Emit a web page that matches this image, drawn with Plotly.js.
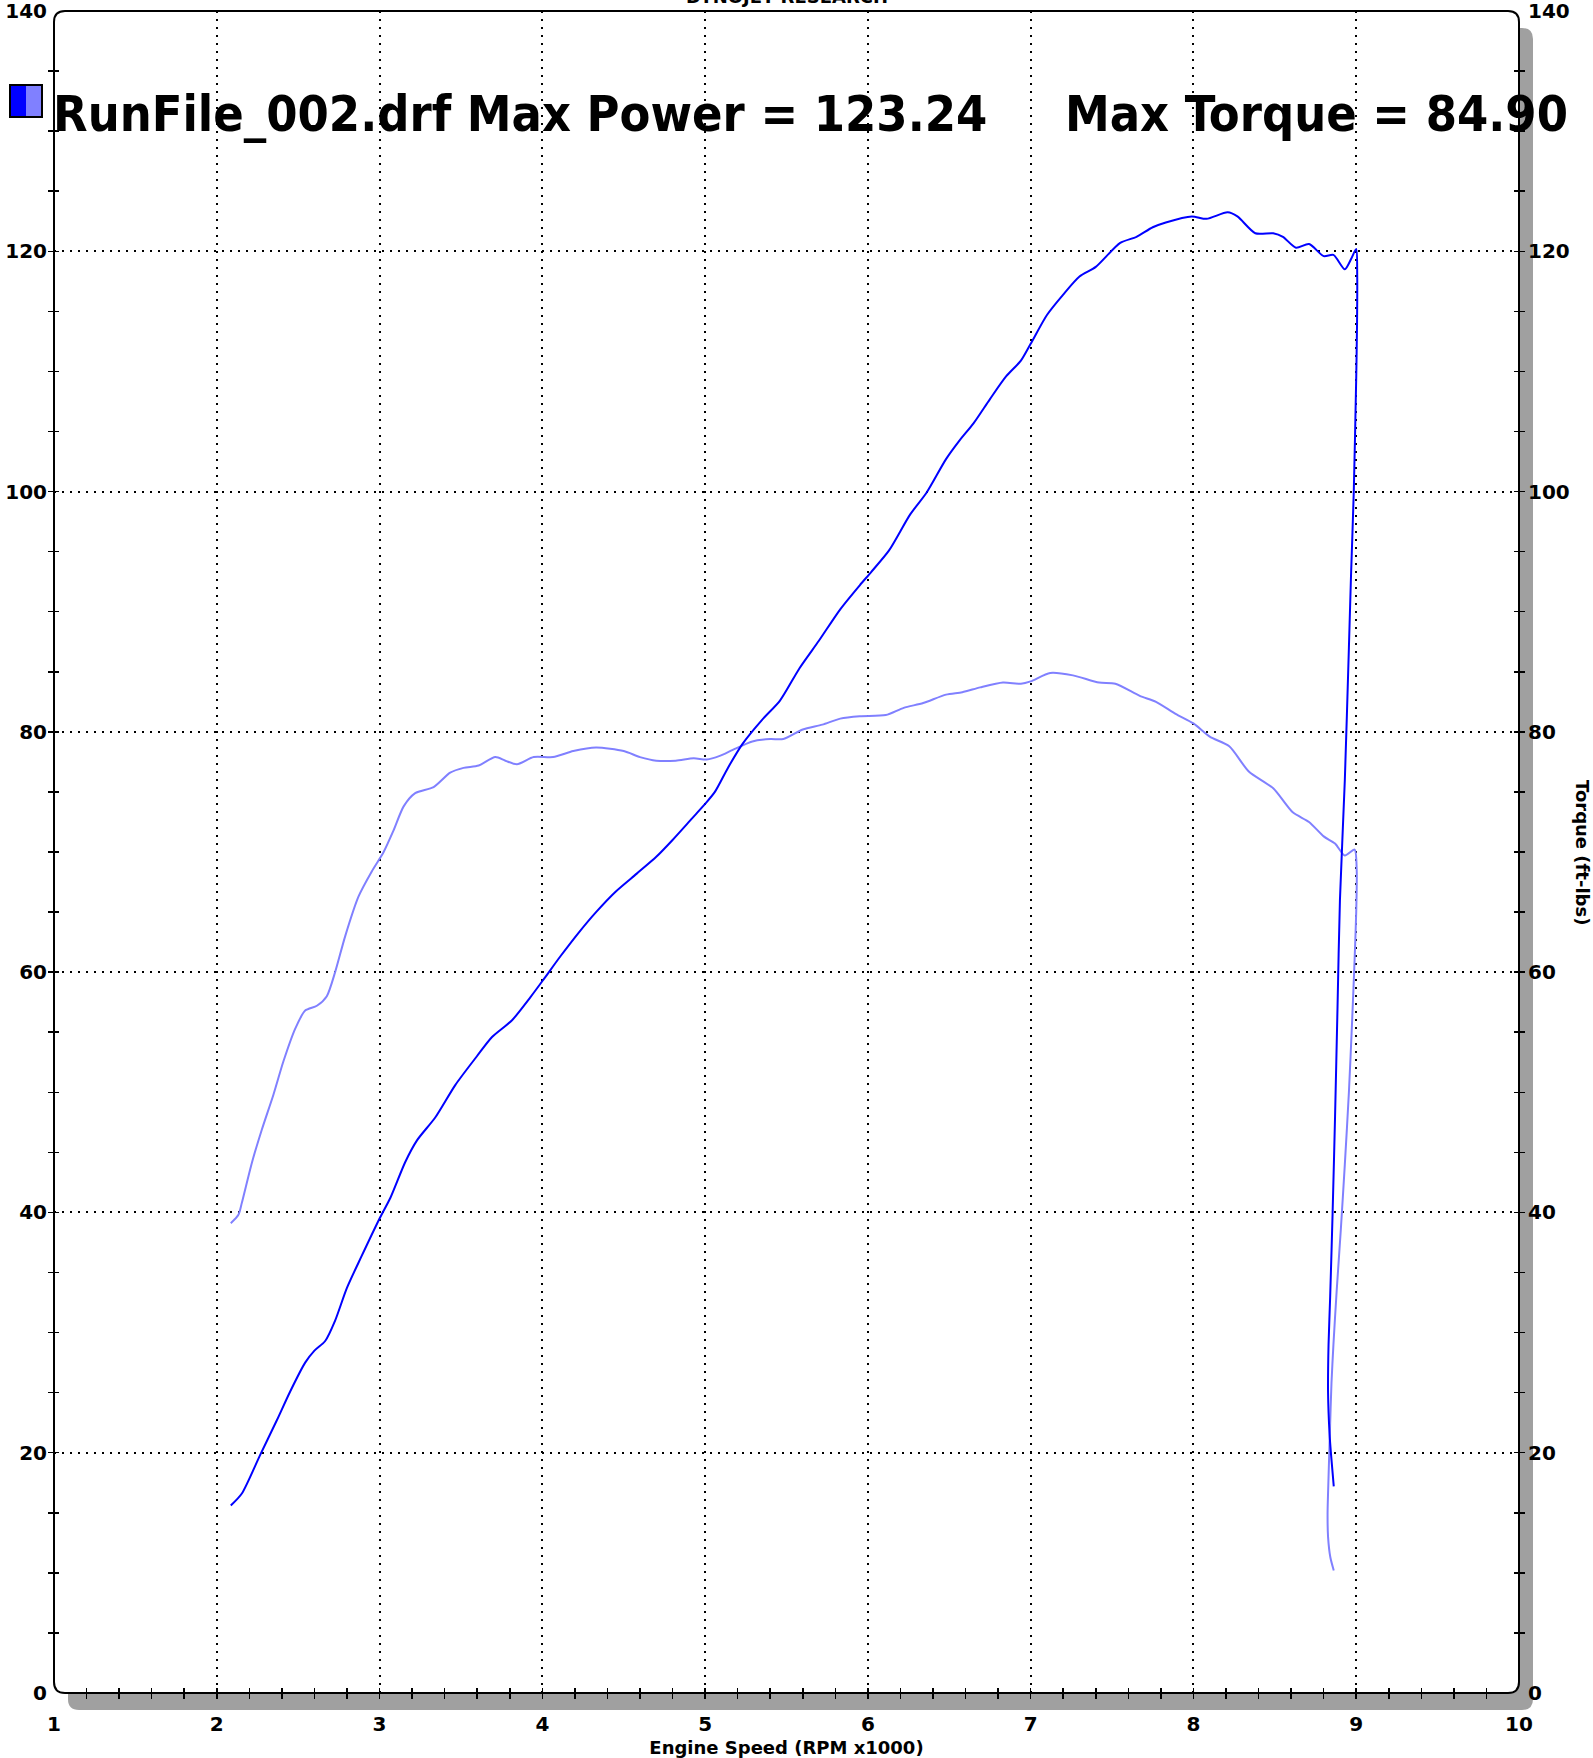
<!DOCTYPE html>
<html>
<head>
<meta charset="utf-8">
<script src="https://cdn.plot.ly/plotly-3.0.1.min.js"></script>
<style>
  html, body { margin: 0; padding: 0; background: #ffffff; }
  #chart { width: 1593px; height: 1758px; }
</style>
</head>
<body>
<div id="chart"></div>
<script>
// ---------------- DATA ----------------
const powerRpm = [2.086, 2.154, 2.266, 2.369, 2.451, 2.543, 2.600, 2.666, 2.727, 2.799, 2.891, 3.004, 3.066, 3.158, 3.230, 3.342, 3.465, 3.598, 3.691, 3.814, 3.926, 4.008, 4.11, 4.23, 4.33, 4.45, 4.58, 4.70, 4.80, 4.92, 5.00, 5.06, 5.14, 5.23, 5.35, 5.46, 5.58, 5.70, 5.83, 5.95, 6.02, 6.13, 6.26, 6.36, 6.48, 6.56, 6.65, 6.75, 6.85, 6.94, 7.00, 7.10, 7.20, 7.30, 7.40, 7.55, 7.65, 7.75, 7.83, 7.99, 8.08, 8.21, 8.27, 8.38, 8.49, 8.55, 8.63, 8.71, 8.80, 8.86, 8.93, 8.97, 9.00,
  9.006, 9.005, 9.000, 8.985, 8.968, 8.955, 8.930, 8.900, 8.885, 8.870, 8.855, 8.840, 8.830, 8.827, 8.836, 8.845, 8.862];
const powerHp = [15.6, 16.6, 19.8, 22.7, 25.1, 27.5, 28.5, 29.3, 31.0, 33.7, 36.4, 39.6, 41.2, 44.2, 46.0, 47.9, 50.6, 53.0, 54.6, 56.0, 57.9, 59.4, 61.3, 63.4, 65.0, 66.7, 68.2, 69.6, 71.0, 72.8, 74.0, 75.0, 77.0, 79.0, 81.0, 82.6, 85.3, 87.6, 90.2, 92.2, 93.3, 95.1, 98.1, 99.9, 102.7, 104.2, 105.7, 107.7, 109.6, 110.9, 112.3, 114.7, 116.4, 117.9, 118.7, 120.7, 121.2, 122.0, 122.4, 122.9, 122.7, 123.24, 122.9, 121.5, 121.5, 121.2, 120.3, 120.6, 119.6, 119.7, 118.5, 119.4, 120.2,
  118.0, 114.0, 109.5, 100.0, 93.0, 87.0, 76.0, 66.0, 57.0, 48.0, 40.0, 33.0, 29.0, 25.0, 21.6, 19.9, 17.2];

const torqueRpm = [2.086, 2.133, 2.154, 2.215, 2.277, 2.348, 2.410, 2.482, 2.543, 2.615, 2.676, 2.727, 2.789, 2.871, 2.953, 3.025, 3.086, 3.148, 3.219, 3.332, 3.434, 3.516, 3.609, 3.711, 3.773, 3.844, 3.947, 4.066, 4.19, 4.33, 4.50, 4.60, 4.70, 4.82, 4.93, 5.01, 5.09, 5.17, 5.29, 5.40, 5.48, 5.60, 5.72, 5.83, 5.95, 6.11, 6.22, 6.34, 6.48, 6.58, 6.69, 6.83, 6.94, 7.00, 7.12, 7.26, 7.42, 7.52, 7.67, 7.77, 7.89, 8.00, 8.10, 8.22, 8.34, 8.49, 8.61, 8.71, 8.80, 8.87, 8.93, 8.99,
  9.003, 9.000, 8.990, 8.975, 8.955, 8.930, 8.905, 8.880, 8.860, 8.848, 8.838, 8.830, 8.824, 8.827, 8.841, 8.862];
const torqueFtLbs = [39.1, 39.8, 40.8, 44.1, 46.9, 49.8, 52.6, 55.3, 56.8, 57.2, 58.0, 60.0, 63.0, 66.3, 68.4, 70.0, 71.8, 73.8, 74.9, 75.4, 76.6, 77.0, 77.2, 77.9, 77.6, 77.3, 77.9, 77.9, 78.4, 78.7, 78.4, 77.9, 77.6, 77.6, 77.8, 77.7, 78.0, 78.5, 79.2, 79.4, 79.4, 80.2, 80.6, 81.1, 81.3, 81.4, 82.0, 82.4, 83.1, 83.3, 83.7, 84.1, 84.0, 84.2, 84.9, 84.7, 84.1, 84.0, 83.0, 82.5, 81.5, 80.7, 79.6, 78.8, 76.7, 75.3, 73.3, 72.5, 71.3, 70.7, 69.7, 70.2,
  68.5, 65.0, 61.0, 56.0, 50.0, 44.0, 38.5, 33.5, 29.0, 25.8, 21.6, 18.0, 14.9, 13.0, 11.3, 10.2];

const xTickValues = [1, 2, 3, 4, 5, 6, 7, 8, 9, 10];
const xTickLabels = ['1', '2', '3', '4', '5', '6', '7', '8', '9', '10'];
const yTickValues = [0, 20, 40, 60, 80, 100, 120, 140];
const yTickLabels = ['0', '20', '40', '60', '80', '100', '120', '140'];

const titleText = 'DYNOJET RESEARCH';
const legendPowerText = 'RunFile_002.drf Max Power = 123.24';
const legendTorqueText = 'Max Torque = 84.90';
const xTitle = 'Engine Speed (RPM x1000)';
const rightTitle = 'Torque (ft-lbs)';

// ---------------- LAYOUT HELPERS ----------------
const W = 1593, H = 1758;
const M = { l: 54, r: 74, t: 11, b: 65 };
const PW = W - M.l - M.r, PH = H - M.t - M.b;
const px2x = p => (p - M.l) / PW;           // pixel x -> paper x
const px2y = p => (H - M.b - p) / PH;        // pixel y -> paper y

// small tick positions (every 0.2 on x, every 5 on y)
const xSmallTicks = [];
for (let i = 1; i < 45; i++) xSmallTicks.push(+(1 + i * 0.2).toFixed(1));
const ySmallTicks = [];
for (let i = 1; i < 28; i++) ySmallTicks.push(i * 5);

function roundRect(x0p, y0p, x1p, y1p, r) {
  const X0 = px2x(x0p), X1 = px2x(x1p), Yt = px2y(y0p), Yb = px2y(y1p);
  const rx = r / PW, ry = r / PH;
  return `M ${X0 + rx} ${Yb} L ${X1 - rx} ${Yb} Q ${X1} ${Yb} ${X1} ${Yb + ry} ` +
         `L ${X1} ${Yt - ry} Q ${X1} ${Yt} ${X1 - rx} ${Yt} ` +
         `L ${X0 + rx} ${Yt} Q ${X0} ${Yt} ${X0} ${Yt - ry} ` +
         `L ${X0} ${Yb + ry} Q ${X0} ${Yb} ${X0 + rx} ${Yb} Z`;
}

const FONT = 'DejaVu Sans, Verdana, sans-serif';
const COND = 'DejaVu Sans Condensed, Liberation Sans Narrow, DejaVu Sans, sans-serif';
const tickFont = { family: FONT, size: 20, color: '#000', weight: 'bold' };

const smallTickAxis = (extra) => Object.assign({
  showticklabels: false, showgrid: false, zeroline: false, showline: false,
  tickmode: 'array', ticklen: 5, tickwidth: 1.5, tickcolor: '#000', fixedrange: true
}, extra);

// ---------------- TRACES ----------------
const traces = [
  { x: torqueRpm, y: torqueFtLbs, type: 'scatter', mode: 'lines',
    line: { color: '#8080ff', width: 2, shape: 'spline', smoothing: 0.7 }, hoverinfo: 'skip', showlegend: false },
  { x: powerRpm, y: powerHp, type: 'scatter', mode: 'lines',
    line: { color: '#0000ff', width: 2, shape: 'spline', smoothing: 0.7 }, hoverinfo: 'skip', showlegend: false },
  // empty traces that register the overlay axes used for ticks / right labels
  { x: [], y: [], xaxis: 'x2', yaxis: 'y', showlegend: false, hoverinfo: 'skip' },
  { x: [], y: [], xaxis: 'x3', yaxis: 'y', showlegend: false, hoverinfo: 'skip' },
  { x: [], y: [], xaxis: 'x', yaxis: 'y2', showlegend: false, hoverinfo: 'skip' },
  { x: [], y: [], xaxis: 'x', yaxis: 'y3', showlegend: false, hoverinfo: 'skip' },
  { x: [], y: [], xaxis: 'x', yaxis: 'y4', showlegend: false, hoverinfo: 'skip' },
  { x: [], y: [], xaxis: 'x', yaxis: 'y5', showlegend: false, hoverinfo: 'skip' },
  { x: [], y: [], xaxis: 'x', yaxis: 'y6', showlegend: false, hoverinfo: 'skip' }
];

const gridStyle = { showgrid: true, gridcolor: '#000000', gridwidth: 2, griddash: '2px,6px' };

const layout = {
  width: W, height: H,
  margin: M,
  paper_bgcolor: '#ffffff',
  plot_bgcolor: 'rgba(0,0,0,0)',
  showlegend: false,
  font: { family: FONT, color: '#000' },
  xaxis: Object.assign({
    range: [1, 10], tickmode: 'array', tickvals: xTickValues, ticktext: xTickLabels,
    ticks: '', showline: false, zeroline: false, tickfont: tickFont,
    ticklabelstandoff: 17, ticklabeloverflow: 'allow', fixedrange: true,
    title: { text: xTitle, font: { family: FONT, size: 18, color: '#000', weight: 'bold' }, standoff: 6 }
  }, gridStyle),
  xaxis2: smallTickAxis({ overlaying: 'x', anchor: 'y', side: 'bottom', range: [1, 10], tickvals: xSmallTicks, ticks: 'outside' }),
  xaxis3: smallTickAxis({ overlaying: 'x', anchor: 'y', side: 'bottom', range: [1, 10], tickvals: xSmallTicks, ticks: 'inside' }),
  yaxis: Object.assign({
    range: [0, 140], tickmode: 'array', tickvals: yTickValues, ticktext: yTickLabels,
    ticks: '', showline: false, zeroline: false, tickfont: tickFont,
    ticklabelstandoff: 6, ticklabeloverflow: 'allow', fixedrange: true
  }, gridStyle),
  yaxis2: {
    overlaying: 'y', anchor: 'x', side: 'right', range: [0, 140],
    tickmode: 'array', tickvals: yTickValues, ticktext: yTickLabels,
    ticks: '', showgrid: false, zeroline: false, showline: false,
    tickfont: tickFont, ticklabelstandoff: 8, ticklabeloverflow: 'allow', fixedrange: true
  },
  yaxis3: smallTickAxis({ overlaying: 'y', anchor: 'x', side: 'left', range: [0, 140], tickvals: ySmallTicks, ticks: 'outside' }),
  yaxis4: smallTickAxis({ overlaying: 'y', anchor: 'x', side: 'left', range: [0, 140], tickvals: ySmallTicks, ticks: 'inside' }),
  yaxis5: smallTickAxis({ overlaying: 'y', anchor: 'x', side: 'right', range: [0, 140], tickvals: ySmallTicks, ticks: 'outside' }),
  yaxis6: smallTickAxis({ overlaying: 'y', anchor: 'x', side: 'right', range: [0, 140], tickvals: ySmallTicks, ticks: 'inside' }),
  shapes: [
    // drop shadow
    { type: 'path', xref: 'paper', yref: 'paper', layer: 'below',
      path: roundRect(M.l + 14, M.t + 17, M.l + PW + 14, M.t + PH + 17, 11),
      fillcolor: '#a0a0a0', line: { width: 0 } },
    // plot frame
    { type: 'path', xref: 'paper', yref: 'paper', layer: 'below',
      path: roundRect(M.l, M.t, M.l + PW, M.t + PH, 11),
      fillcolor: '#ffffff', line: { color: '#000000', width: 2 } },
    // legend swatch
    { type: 'rect', xref: 'paper', yref: 'paper', layer: 'above',
      x0: px2x(10), x1: px2x(26), y0: px2y(117), y1: px2y(85),
      fillcolor: '#0000ff', line: { width: 0 } },
    { type: 'rect', xref: 'paper', yref: 'paper', layer: 'above',
      x0: px2x(26), x1: px2x(42), y0: px2y(117), y1: px2y(85),
      fillcolor: '#8080ff', line: { width: 0 } },
    { type: 'rect', xref: 'paper', yref: 'paper', layer: 'above',
      x0: px2x(10), x1: px2x(42), y0: px2y(117), y1: px2y(85),
      fillcolor: 'rgba(0,0,0,0)', line: { color: '#000000', width: 2 } }
  ],
  annotations: [
    { text: titleText, xref: 'paper', yref: 'paper', x: 0.5, y: px2y(9), xanchor: 'center', yanchor: 'bottom',
      showarrow: false, font: { family: FONT, size: 18, color: '#000', weight: 'bold' } },
    { text: legendPowerText, xref: 'paper', yref: 'paper', x: px2x(51), y: px2y(114), xanchor: 'left', yanchor: 'middle',
      showarrow: false, font: { family: COND, size: 50, color: '#000', weight: 'bold' } },
    { text: legendTorqueText, xref: 'paper', yref: 'paper', x: px2x(1063), y: px2y(114), xanchor: 'left', yanchor: 'middle',
      showarrow: false, font: { family: COND, size: 50, color: '#000', weight: 'bold' } },
    { text: rightTitle, xref: 'paper', yref: 'paper', x: px2x(1583), y: 0.5, xanchor: 'center', yanchor: 'middle',
      textangle: 90, showarrow: false, font: { family: FONT, size: 18, color: '#000', weight: 'bold' } }
  ]
};

Plotly.newPlot('chart', traces, layout, { displayModeBar: false, staticPlot: true });
</script>
</body>
</html>
